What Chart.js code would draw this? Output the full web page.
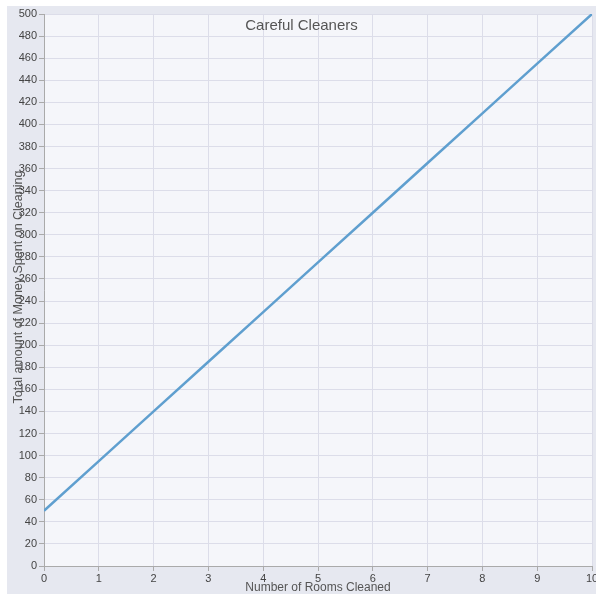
<!DOCTYPE html>
<html>
<head>
<meta charset="utf-8">
<script src="https://cdn.jsdelivr.net/npm/chart.js@4/dist/chart.umd.min.js"></script>
<style>
  html, body { margin: 0; padding: 0; background: #fff; }
  #wrap { position: absolute; left: 7px; top: 6px; width: 589px; height: 588px; }
</style>
</head>
<body>
<div id="wrap"><canvas id="chart" width="589" height="588"></canvas></div>
<script>
// chart data
const roomsCleaned = [0, 1, 2, 3, 4, 5, 6, 7, 8, 9, 10];
const moneySpent = [50, 95, 140, 185, 230, 275, 320, 365, 410, 455, 500];
const chartTitle = 'Careful Cleaners';
const xAxisTitle = 'Number of Rooms Cleaned';
const yAxisTitle = 'Total amount of Money Spent on Cleaning';

const FONT = '"Liberation Sans", Arial, sans-serif';

// backgrounds + titles drawn over the plot like the original
const decorPlugin = {
  id: 'decor',
  beforeDraw(chart) {
    const { ctx, chartArea: a, width, height } = chart;
    ctx.save();
    ctx.fillStyle = '#e6e8f0';
    ctx.fillRect(0, 0, width, height);
    ctx.fillStyle = '#f5f6fa';
    ctx.fillRect(a.left, a.top, a.right - a.left, a.bottom - a.top);
    ctx.restore();
  },
  afterDraw(chart) {
    const { ctx, chartArea: a, width } = chart;
    ctx.save();
    ctx.fillStyle = '#555';
    ctx.textAlign = 'center';
    ctx.textBaseline = 'middle';
    ctx.font = '15px ' + FONT;
    ctx.fillText(chartTitle, width / 2, 20);
    ctx.font = '12px ' + FONT;
    ctx.fillText(xAxisTitle, (a.left + a.right) / 2, 582);
    ctx.font = '12.5px ' + FONT;
    ctx.translate(12, 281);
    ctx.rotate(-Math.PI / 2);
    ctx.fillText(yAxisTitle, 0, 0);
    ctx.restore();
  }
};

new Chart(document.getElementById('chart').getContext('2d'), {
  type: 'line',
  data: {
    labels: roomsCleaned,
    datasets: [{
      data: roomsCleaned.map((x, i) => ({ x: x, y: moneySpent[i] })),
      borderColor: '#5f9fcf',
      borderWidth: 2.5,
      pointRadius: 0,
      tension: 0,
      fill: false
    }]
  },
  options: {
    responsive: false,
    animation: false,
    layout: { padding: { top: 8, right: 4, left: 0, bottom: 0 } },
    plugins: { legend: { display: false }, tooltip: { enabled: false } },
    scales: {
      x: {
        type: 'linear',
        min: 0, max: 10,
        afterFit(axis) { axis.height = 28; axis.paddingRight = 0; axis.paddingLeft = 0; },
        ticks: { stepSize: 1, maxRotation: 0, color: '#444', font: { family: FONT, size: 11 }, padding: 1 },
        grid: { color: '#dcdde9', tickLength: 5, tickColor: '#aaa' },
        border: { color: '#aaa' }
      },
      y: {
        min: 0, max: 500,
        afterFit(axis) { axis.width = 37; axis.paddingTop = 0; axis.paddingBottom = 0; },
        ticks: { stepSize: 20, color: '#444', font: { family: FONT, size: 11 }, padding: 2 },
        grid: { color: '#dcdde9', tickLength: 5, tickColor: '#aaa' },
        border: { color: '#aaa' }
      }
    }
  },
  plugins: [decorPlugin]
});
</script>
</body>
</html>
